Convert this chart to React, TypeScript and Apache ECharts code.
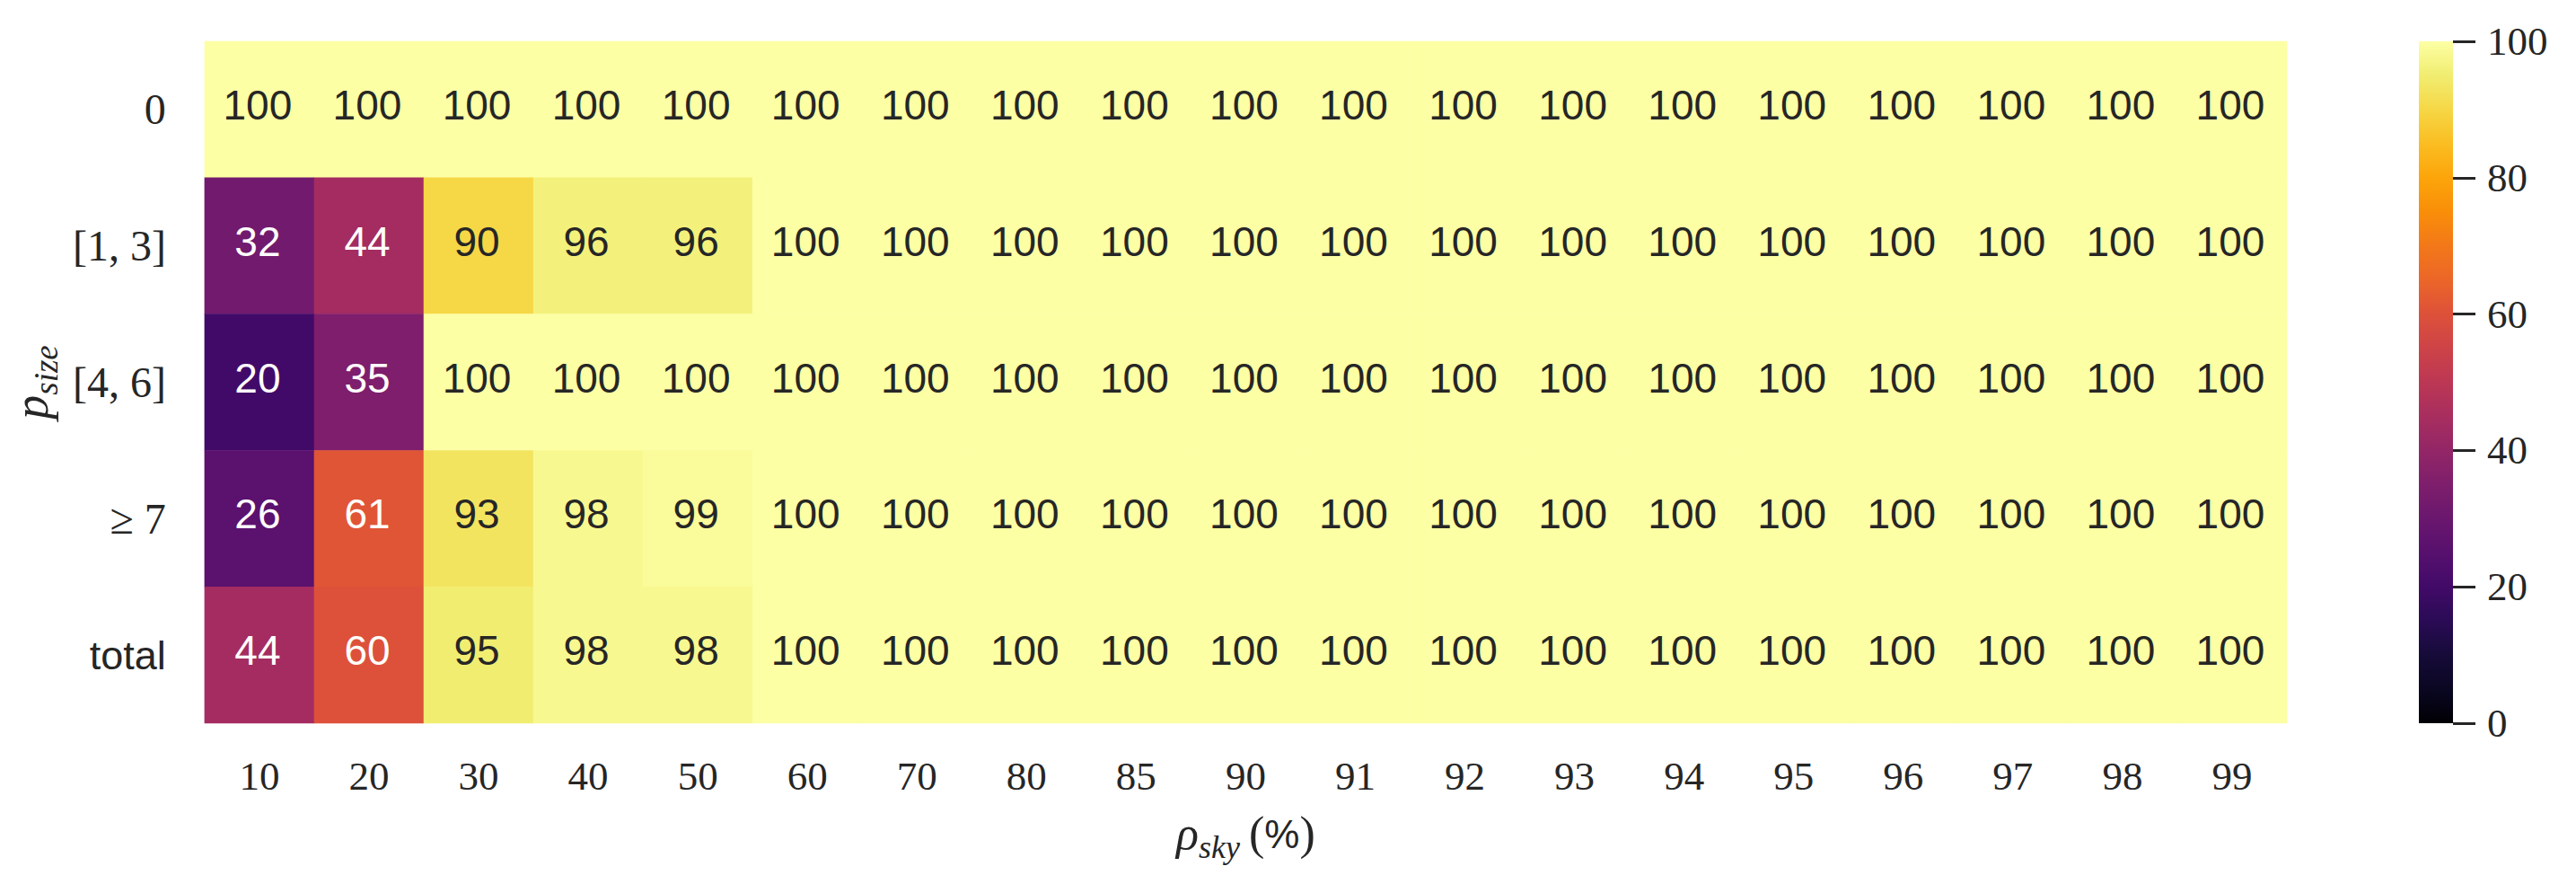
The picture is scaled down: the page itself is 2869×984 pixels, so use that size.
import React, { useEffect, useRef } from "react";
import * as echarts from "echarts";

const xCategories = ["10", "20", "30", "40", "50", "60", "70", "80", "85", "90", "91", "92", "93", "94", "95", "96", "97", "98", "99"];
const yCategories = ["0", "[1, 3]", "[4, 6]", "≥ 7", "total"];

const rowZero = [100, 100, 100, 100, 100, 100, 100, 100, 100, 100, 100, 100, 100, 100, 100, 100, 100, 100, 100];
const rowOneToThree = [32, 44, 90, 96, 96, 100, 100, 100, 100, 100, 100, 100, 100, 100, 100, 100, 100, 100, 100];
const rowFourToSix = [20, 35, 100, 100, 100, 100, 100, 100, 100, 100, 100, 100, 100, 100, 100, 100, 100, 100, 100];
const rowSevenPlus = [26, 61, 93, 98, 99, 100, 100, 100, 100, 100, 100, 100, 100, 100, 100, 100, 100, 100, 100];
const rowTotal = [44, 60, 95, 98, 98, 100, 100, 100, 100, 100, 100, 100, 100, 100, 100, 100, 100, 100, 100];
const rows = [rowZero, rowOneToThree, rowFourToSix, rowSevenPlus, rowTotal];

const colorbarMin = 0;
const colorbarMax = 100;
const colorbarInterval = 20;

// inferno colormap sampled every 0.05
const infernoColors = [
  "#000004", "#0a0722", "#160b39", "#2a0b55", "#420a68", "#57106e", "#6a176e",
  "#7e1e6c", "#932667", "#a82e5f", "#bc3754", "#cd4347", "#dd513a", "#eb6628",
  "#f37819", "#f98e09", "#fca50a", "#fabd22", "#f6d746", "#f1ed71", "#fcffa4",
];

const SERIF = "'Liberation Serif', 'DejaVu Serif', serif";
const SANS = "'Liberation Sans', 'DejaVu Sans', sans-serif";
const TEXT = "#262626";

export default function App() {
  const ref = useRef<HTMLDivElement>(null);

  useEffect(() => {
    if (!ref.current) return;
    const chart = echarts.init(ref.current, undefined, { renderer: "svg" });

    const heatData: any[] = [];
    rows.forEach((row, r) => {
      row.forEach((v, c) => {
        heatData.push({
          value: [c, r, v],
          label: { color: v < 75 ? "#ffffff" : TEXT },
        });
      });
    });

    const gradientStops = infernoColors.map((color, i) => ({ offset: i / (infernoColors.length - 1), color }));

    const option: any = {
      animation: false,
      backgroundColor: "#ffffff",
      grid: [
        { left: 224, top: 46, width: 2323, height: 759 },
        { left: 2694, top: 46, width: 38, height: 759 },
      ],
      xAxis: [
        {
          type: "category",
          gridIndex: 0,
          data: xCategories,
          axisLine: { show: false },
          axisTick: { show: false },
          splitLine: { show: false },
          axisLabel: { fontFamily: SERIF, fontSize: 45, color: TEXT, margin: 36 },
          name: "{rho|ρ}{sub|sky}{sp| }{par|(}{pct|%}{par|)}",
          nameLocation: "middle",
          nameGap: 96,
          nameTextStyle: {
            rich: {
              rho: { fontFamily: SERIF, fontStyle: "italic", fontSize: 52, color: TEXT, verticalAlign: "bottom", padding: [0, 0, 8, 0] },
              sub: { fontFamily: SERIF, fontStyle: "italic", fontSize: 36, color: TEXT, verticalAlign: "bottom" },
              sp: { fontFamily: SERIF, fontSize: 40, color: TEXT, verticalAlign: "bottom", padding: [0, 0, 8, 0] },
              par: { fontFamily: SERIF, fontSize: 52, color: TEXT, verticalAlign: "bottom", padding: [0, 0, 8, 0] },
              pct: { fontFamily: SANS, fontSize: 44, color: TEXT, verticalAlign: "bottom", padding: [0, 0, 11, 0] },
            },
          },
        },
        {
          type: "category",
          gridIndex: 1,
          data: [""],
          show: false,
        },
      ],
      yAxis: [
        {
          type: "category",
          gridIndex: 0,
          data: yCategories,
          inverse: true,
          axisLine: { show: false },
          axisTick: { show: false },
          splitLine: { show: false },
          axisLabel: {
            margin: 43,
            formatter: (v: string) => (v === "total" ? `{sans|${v}}` : `{serif|${v}}`),
            rich: {
              serif: { fontFamily: SERIF, fontSize: 48, color: TEXT },
              sans: { fontFamily: SANS, fontSize: 45, color: TEXT },
            },
          },
          name: "{p|p}{sub|size}",
          nameLocation: "middle",
          nameRotate: 90,
          nameGap: 150,
          nameTextStyle: {
            rich: {
              p: { fontFamily: SERIF, fontStyle: "italic", fontSize: 54, color: TEXT, verticalAlign: "bottom", padding: [0, 0, 8, 0] },
              sub: { fontFamily: SERIF, fontStyle: "italic", fontSize: 37, color: TEXT, verticalAlign: "bottom" },
            },
          },
        },
        {
          type: "value",
          gridIndex: 1,
          min: colorbarMin,
          max: colorbarMax,
          interval: colorbarInterval,
          position: "right",
          axisLine: { show: false },
          axisTick: { show: true, length: 25, lineStyle: { color: TEXT, width: 3 } },
          splitLine: { show: false },
          axisLabel: { fontFamily: SERIF, fontSize: 45, color: TEXT, margin: 38 },
        },
      ],
      visualMap: {
        show: false,
        min: colorbarMin,
        max: colorbarMax,
        seriesIndex: 0,
        dimension: 2,
        inRange: { color: infernoColors },
      },
      series: [
        {
          type: "heatmap",
          xAxisIndex: 0,
          yAxisIndex: 0,
          data: heatData,
          label: {
            show: true,
            fontFamily: SANS,
            fontSize: 46,
            offset: [-2, -5],
            formatter: (p: any) => String(p.value[2]),
          },
          itemStyle: { borderWidth: 0 },
          emphasis: { disabled: true },
        },
        {
          type: "bar",
          xAxisIndex: 1,
          yAxisIndex: 1,
          data: [colorbarMax],
          barWidth: "100%",
          silent: true,
          itemStyle: {
            color: new echarts.graphic.LinearGradient(0, 1, 0, 0, gradientStops),
          },
        },
      ],
    };

    chart.setOption(option);
    return () => chart.dispose();
  }, []);

  return (
    <div
      ref={ref}
      style={{ position: "absolute", left: 0, top: 0, width: 2869, height: 984, background: "#ffffff" }}
    />
  );
}
